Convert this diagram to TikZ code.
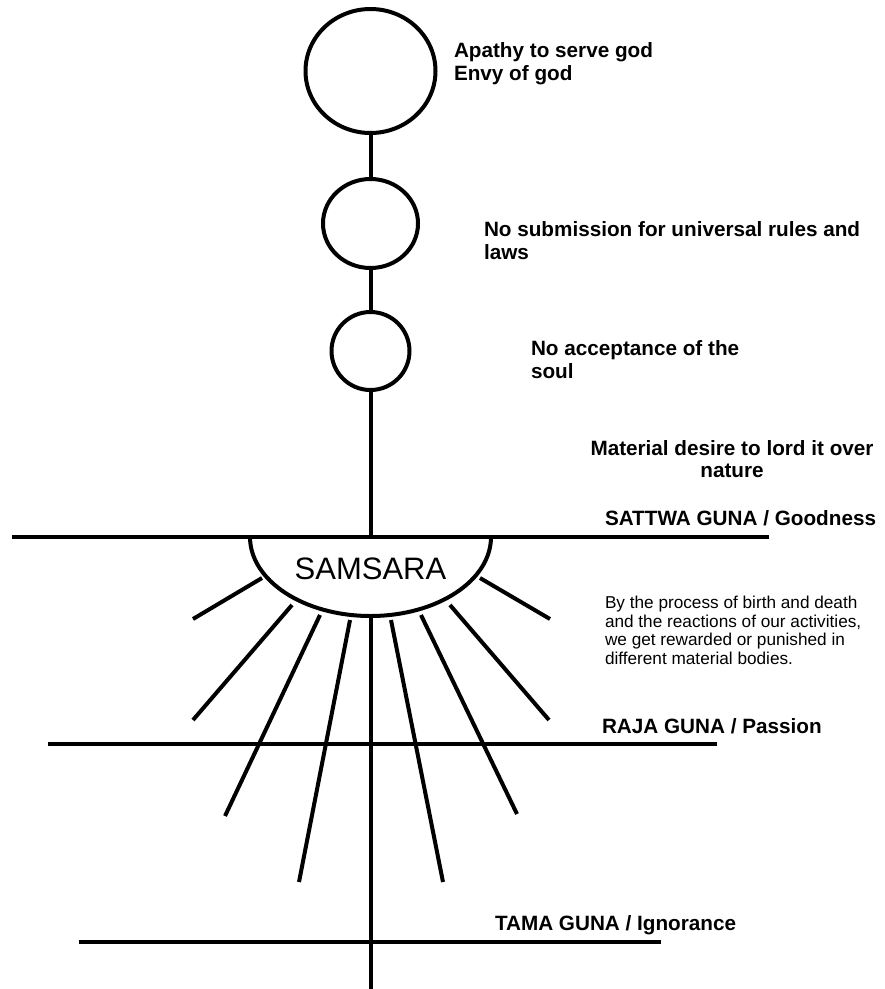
\documentclass[tikz,border=0pt]{standalone}
\usepackage{fontspec}
\setmainfont{Liberation Sans}
\usetikzlibrary{shapes.geometric}
\begin{document}
\begin{tikzpicture}[x=1pt,y=1pt,yscale=-1,line width=4pt,
  lbl/.style={font=\fontsize{20.7}{23}\selectfont\bfseries,inner sep=0pt,anchor=base west},
  note/.style={font=\fontsize{17.2}{18.7}\selectfont,inner sep=0pt,anchor=base west},
  ring/.style={draw,ellipse,inner sep=0pt,outer sep=0pt},
  guna/.style={line width=4pt},
  ray/.style={line width=4pt}]
\useasboundingbox (0,0) rectangle (885,989);

% circles
\node[ring,minimum width=130pt,minimum height=124pt] (c1) at (370.5,71) {};
\node[ring,minimum width=95pt,minimum height=89pt] (c2) at (370.5,223.5) {};
\node[ring,minimum width=78pt,minimum height=78pt] (c3) at (370.5,351) {};
\draw (c1.south) -- (c2.north);
\draw (c2.south) -- (c3.north);

% guna lines
\coordinate (sL) at (12,537);  \coordinate (sR) at (769,537);
\coordinate (rL) at (48,744);  \coordinate (rR) at (717,744);
\coordinate (tL) at (79,942);  \coordinate (tR) at (661,942);
\draw[guna] (sL) -- (sR);
\draw[guna] (rL) -- (rR);
\draw[guna] (tL) -- (tR);

% central axis
\coordinate (sC) at (370.5,537);
\draw (c3.south) -- (sC);
\coordinate (eL) at (250,537);
\draw (eL) arc[start angle=180,end angle=0,x radius=120.5pt,y radius=79pt];
\coordinate (eB) at (370.5,616);
\coordinate (bot) at (370.5,989);
\draw (eB) -- (bot);
\node[font=\fontsize{31}{34}\selectfont,inner sep=0pt,anchor=base] (sam) at (370.5,579) {SAMSARA};

% rays
\coordinate (l1a) at (262,578); \coordinate (l1b) at (193,619);
\coordinate (l2a) at (292,605); \coordinate (l2b) at (193,720);
\coordinate (l3a) at (320,615); \coordinate (l3b) at (225,816);
\coordinate (l4a) at (350,620); \coordinate (l4b) at (299,882);
\coordinate (r4a) at (391,620); \coordinate (r4b) at (443,882);
\coordinate (r3a) at (421,615); \coordinate (r3b) at (517,814);
\coordinate (r2a) at (450,605); \coordinate (r2b) at (549,720);
\coordinate (r1a) at (480,578); \coordinate (r1b) at (550,619);
\draw[ray] (l1a) -- (l1b);
\draw[ray] (l2a) -- (l2b);
\draw[ray] (l3a) -- (l3b);
\draw[ray] (l4a) -- (l4b);
\draw[ray] (r4a) -- (r4b);
\draw[ray] (r3a) -- (r3b);
\draw[ray] (r2a) -- (r2b);
\draw[ray] (r1a) -- (r1b);

% labels
\node[lbl] (a1) at (452,57) {Apathy to serve god};
\node[lbl] (a2) at (452,80) {Envy of god};
\node[lbl] (b1) at (482,236) {No submission for universal rules and};
\node[lbl] (b2) at (482,259) {laws};
\node[lbl] (d1) at (529,355) {No acceptance of the};
\node[lbl] (d2) at (529,378) {soul};
\node[lbl,anchor=base] (m1) at (732,455) {Material desire to lord it over};
\node[lbl,anchor=base] (m2) at (732,477) {nature};
\node[lbl] (sat) at (603,525) {SATTWA GUNA / Goodness};
\node[note] (n1) at (603,608) {By the process of birth and death};
\node[note] (n2) at (603,627) {and the reactions of our activities,};
\node[note] (n3) at (603,645) {we get rewarded or punished in};
\node[note] (n4) at (603,664) {different material bodies.};
\node[lbl] (raj) at (600,733) {RAJA GUNA / Passion};
\node[lbl] (tam) at (493,930) {TAMA GUNA / Ignorance};
\end{tikzpicture}
\end{document}
